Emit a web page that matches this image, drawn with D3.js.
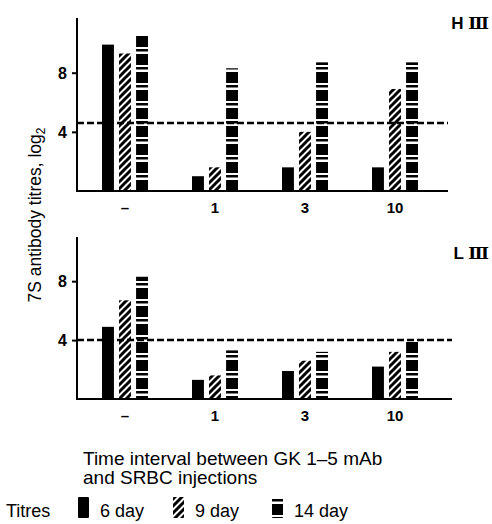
<!DOCTYPE html>
<html>
<head>
<meta charset="utf-8">
<script src="https://cdn.jsdelivr.net/npm/d3@7"></script>
<style>
  body { margin: 0; background: #fff; }
  text { font-family: "Liberation Sans", Arial, sans-serif; fill: #000; }
  .tickLabel { font-weight: bold; font-size: 16px; }
</style>
</head>
<body>
<div id="chart"></div>
<script>
// data (log2 titres)
var intervals = ["–", "1", "3", "10"];
var series = ["6 day", "9 day", "14 day"];
var hIII_6 = [9.9, 1.0, 1.6, 1.6];
var hIII_9 = [9.3, 1.6, 4.0, 6.9];
var hIII_14 = [10.6, 8.3, 8.7, 8.7];
var lIII_6 = [4.9, 1.3, 1.9, 2.2];
var lIII_9 = [6.7, 1.6, 2.6, 3.2];
var lIII_14 = [8.3, 3.3, 3.2, 4.0];
var yTicks = [4, 8];
var panelNames = ["H", "L"];
var baselineLevels = [4.6, 4.0];

var svg = d3.select("#chart").append("svg")
  .attr("width", 492)
  .attr("height", 524);

var defs = svg.append("defs");

// 9 day : diagonal hatch
var hatch = defs.append("pattern")
  .attr("id", "hatch")
  .attr("patternUnits", "userSpaceOnUse")
  .attr("width", 7)
  .attr("height", 7);
hatch.append("path")
  .attr("d", "M0,7 L7,0 M-2,2 L2,-2 M5,9 L9,5")
  .attr("stroke", "#000")
  .attr("stroke-width", 3);

// 14 day : black blocks with white bands
var blocks = defs.append("pattern")
  .attr("id", "blocks")
  .attr("patternUnits", "userSpaceOnUse")
  .attr("width", 20)
  .attr("height", 18);
blocks.append("rect").attr("width", 20).attr("height", 18).attr("fill", "#fff");
blocks.append("rect").attr("y", 0).attr("width", 20).attr("height", 11).attr("fill", "#000");
blocks.append("rect").attr("y", 13).attr("width", 20).attr("height", 2.5).attr("fill", "#000");

var fills = { "6 day": "#000", "9 day": "url(#hatch)", "14 day": "url(#blocks)" };

var x = d3.scalePoint()
  .domain(intervals)
  .range([125, 395]);

var xSub = d3.scaleBand()
  .domain(series)
  .range([-23, 23])
  .paddingInner(0.3);

var panels = [
  { name: panelNames[0], data: [hIII_6, hIII_9, hIII_14], level: baselineLevels[0],
    y: d3.scaleLinear().domain([0, 11.7]).range([191, 18]), right: 448, labelY: 29 },
  { name: panelNames[1], data: [lIII_6, lIII_9, lIII_14], level: baselineLevels[1],
    y: d3.scaleLinear().domain([0, 11]).range([399, 237]), right: 452, labelY: 259 }
];

var axisX = 77;

panels.forEach(function (p) {
  var g = svg.append("g");
  var y = p.y;

  // bars
  series.forEach(function (s, si) {
    g.selectAll(null)
      .data(p.data[si])
      .enter()
      .append("rect")
      .attr("x", (d, i) => x(intervals[i]) + xSub(s))
      .attr("y", d => y(d))
      .attr("width", xSub.bandwidth())
      .attr("height", d => y(0) - y(d))
      .attr("fill", fills[s]);
  });

  // y axis
  var yAxis = d3.axisLeft(y).tickValues(yTicks).tickSize(5).tickPadding(5);
  var ga = g.append("g")
    .attr("transform", "translate(" + axisX + ",0)")
    .call(yAxis);
  ga.select(".domain").remove();
  ga.selectAll("line").attr("stroke", "#000").attr("stroke-width", 2);
  ga.selectAll("text").attr("class", "tickLabel").attr("dy", "0.35em");
  g.append("line")
    .attr("x1", axisX).attr("x2", axisX)
    .attr("y1", y.range()[1]).attr("y2", y(0) + 1)
    .attr("stroke", "#000").attr("stroke-width", 2);

  // x baseline
  g.append("line")
    .attr("x1", axisX).attr("x2", p.right)
    .attr("y1", y(0)).attr("y2", y(0))
    .attr("stroke", "#000").attr("stroke-width", 2);

  // category labels
  g.selectAll(null)
    .data(intervals)
    .enter()
    .append("text")
    .attr("x", d => x(d))
    .attr("y", y(0) + 22)
    .attr("text-anchor", "middle")
    .style("font-weight", "bold")
    .style("font-size", "15px")
    .text(d => d);

  // dashed reference line
  g.append("line")
    .attr("x1", axisX).attr("x2", p.right)
    .attr("y1", y(p.level)).attr("y2", y(p.level))
    .attr("stroke", "#000")
    .attr("stroke-width", 2.5)
    .attr("stroke-dasharray", "7,3");

  // panel label
  var lab = g.append("text")
    .attr("x", 489)
    .attr("y", p.labelY)
    .attr("text-anchor", "end")
    .style("font-weight", "bold")
    .style("font-size", "17px");
  lab.append("tspan").text(p.name + " ");
  lab.append("tspan").style("font-family", "DejaVu Serif").text("Ⅲ");
});

// y title
var yt = svg.append("text")
  .attr("transform", "translate(41,215) rotate(-90)")
  .attr("text-anchor", "middle")
  .style("font-size", "17.5px");
yt.append("tspan").text("7S antibody titres, log");
yt.append("tspan").attr("dy", 4).style("font-size", "12px").text("2");

// x title
svg.append("text").attr("x", 83).attr("y", 465).style("font-size", "19px")
  .text("Time interval between GK 1–5 mAb");
svg.append("text").attr("x", 83).attr("y", 484).style("font-size", "19px")
  .text("and SRBC injections");

// legend
svg.append("text").attr("x", 6).attr("y", 517).style("font-size", "18px").text("Titres");
var legX = [78, 173, 272];
series.forEach(function (s, i) {
  svg.append("rect")
    .attr("x", legX[i]).attr("y", 497)
    .attr("width", 11).attr("height", 21)
    .attr("rx", 1)
    .attr("fill", fills[s]);
  svg.append("text")
    .attr("x", legX[i] + 22).attr("y", 517)
    .style("font-size", "18px")
    .text(s);
});
</script>
</body>
</html>
